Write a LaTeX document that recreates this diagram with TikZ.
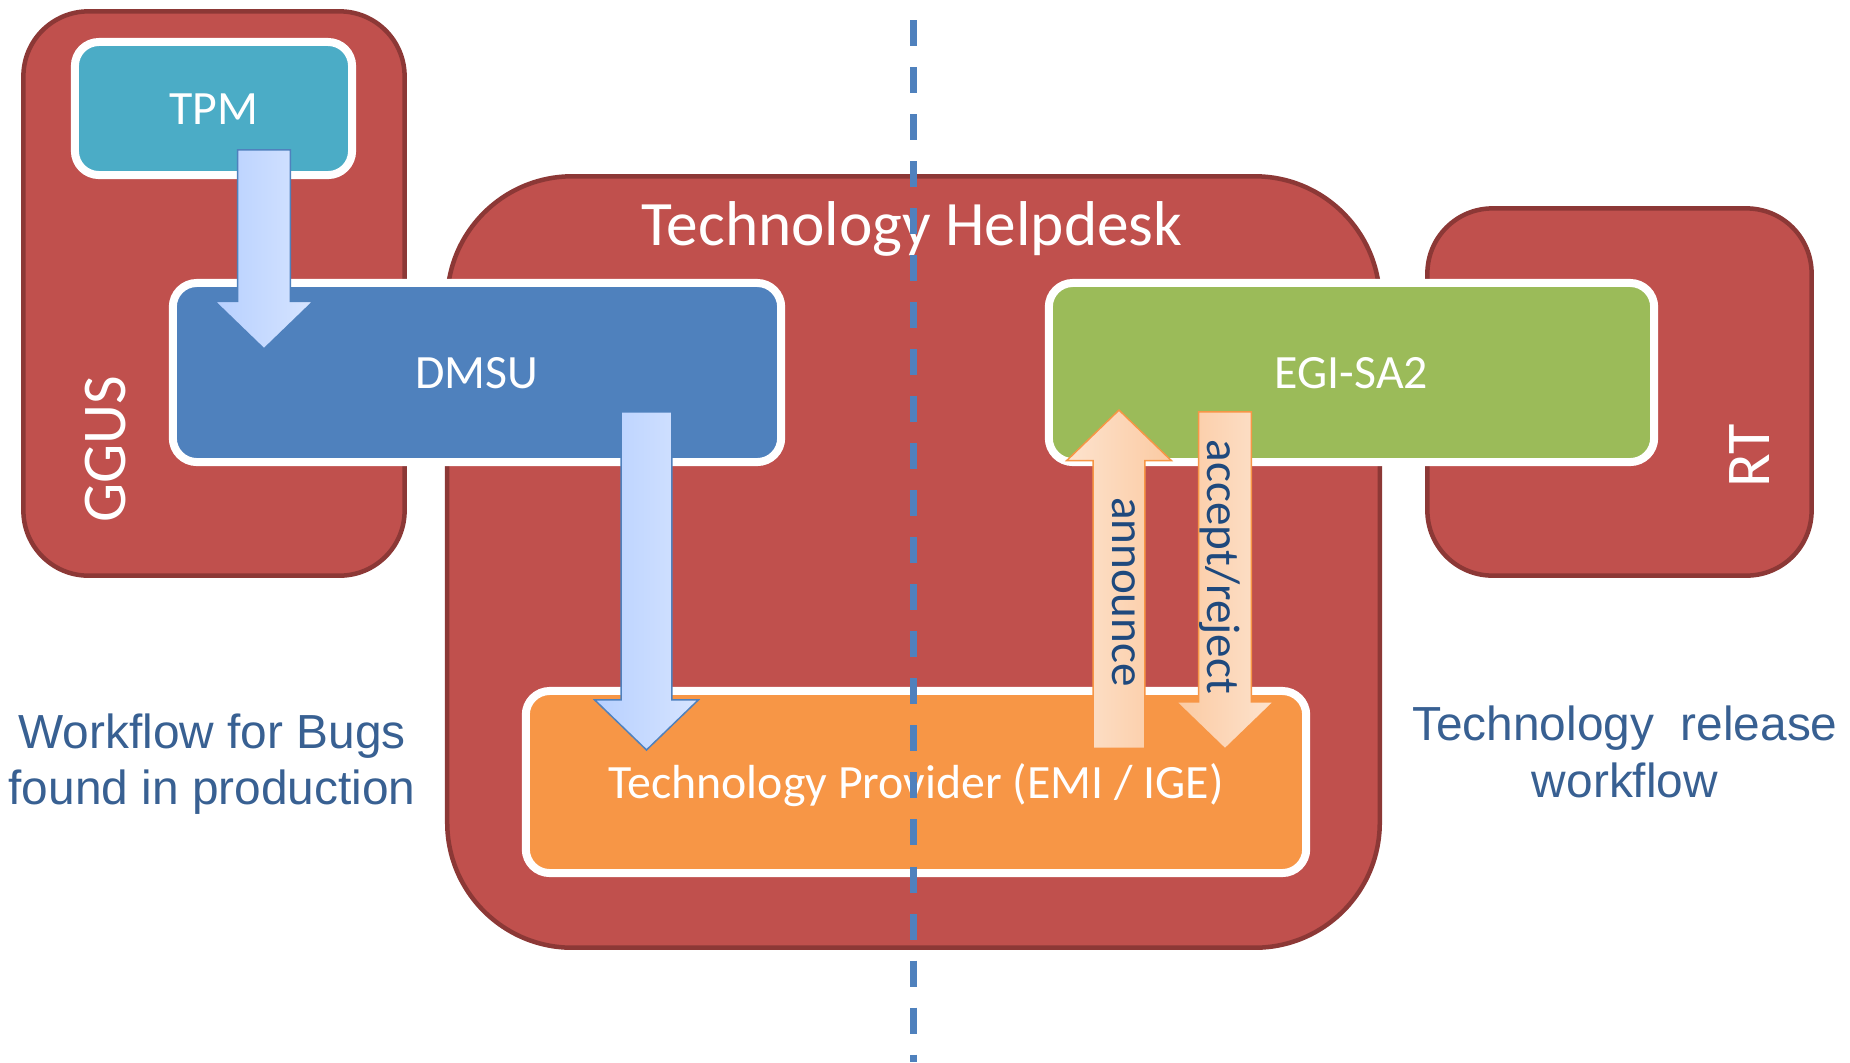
\documentclass[tikz,border=0pt]{standalone}
\usepackage{fontspec}
\setmainfont{Carlito}
\newfontfamily\arialfont{Liberation Sans}
\usetikzlibrary{shapes.arrows}

\definecolor{boxred}{HTML}{C0504D}
\definecolor{boxredline}{HTML}{8C3836}
\definecolor{tpmblue}{HTML}{4BACC6}
\definecolor{dmsublue}{HTML}{4F81BD}
\definecolor{sagreen}{HTML}{9BBB59}
\definecolor{provorange}{HTML}{F79646}
\definecolor{notetext}{RGB}{56,96,146}
\definecolor{flowtextcol}{HTML}{1F497D}
\definecolor{dashblue}{HTML}{4F81BD}
\definecolor{flowblueA}{RGB}{183,208,255}
\definecolor{flowblueB}{RGB}{214,228,255}
\definecolor{flowpeachA}{RGB}{251,202,162}
\definecolor{flowpeachB}{RGB}{253,227,206}

\tikzset{
  groupbox/.style={draw=boxredline, fill=boxred, line width=0.045cm, rounded corners=0.65cm},
  unitbox/.style={draw=white, line width=0.08cm, rounded corners=0.24cm, text=white,
    font=\fontsize{13.6}{16}\selectfont, text height=12.3pt, text depth=3pt},
  grouptext/.style={text=white, font=\fontsize{17.7}{20}\selectfont, inner sep=0pt},
  flowarrow/.style={single arrow, single arrow head indent=0pt,
    single arrow tip angle=92, line width=0.015cm},
  blueflow/.style={flowarrow, draw=dmsublue, left color=flowblueA, right color=flowblueB},
  downpeach/.style={flowarrow, draw=provorange, left color=flowpeachA, right color=flowpeachB},
  uppeach/.style={flowarrow, draw=provorange, left color=flowpeachB, right color=flowpeachA},
  flowlabel/.style={text=flowtextcol, font=\fontsize{13.4}{16}\selectfont, inner sep=0pt},
  notestyle/.style={text=notetext, align=center, inner sep=0pt,
    font=\arialfont\fontsize{13.6}{16}\selectfont}
}

\begin{document}
\begin{tikzpicture}[x=0.01cm,y=-0.01cm]
    \useasboundingbox (0,0) rectangle (1850,1062);

    % outer systems
    \node[groupbox, minimum width=3.81cm, minimum height=5.64cm] (ggus) at (214,293.5) {};
    \node[groupbox, minimum width=9.32cm, minimum height=7.71cm, rounded corners=1.25cm] (helpdesk) at (913.5,562) {};
    \node[groupbox, minimum width=3.84cm, minimum height=3.67cm] (rt) at (1619.5,392) {};

    \node[grouptext, rotate=90] (ggustext) at (106,449) {GGUS};
    \node[grouptext, rotate=90] (rttext) at (1750,456) {RT};
    \node[text=white, font=\fontsize{18}{20}\selectfont, anchor=base, inner sep=0pt] (helpdesktitle) at (912,245) {Technology Helpdesk};

    % units
    \node[unitbox, fill=tpmblue, minimum width=2.77cm, minimum height=1.33cm] (tpm) at (213.5,108.5) {TPM};
    \node[unitbox, fill=dmsublue, minimum width=6.08cm, minimum height=1.79cm] (dmsu) at (477,372.5) {DMSU};
    \node[unitbox, fill=sagreen, minimum width=6.05cm, minimum height=1.79cm] (egisa) at (1351.5,372.5) {EGI-SA2};
    \node[unitbox, fill=provorange, minimum width=7.80cm, minimum height=1.82cm] (provider) at (916,782) {Technology Provider (EMI / IGE)};

    % block arrows
    \node[blueflow, shape border rotate=270, minimum height=1.99cm, minimum width=0.97cm,
        inner sep=0.255cm, single arrow head extend=0.23cm, anchor=tail] (tpmdmsu) at (264,149) {};
    \node[blueflow, shape border rotate=270, minimum height=3.38cm, minimum width=1.02cm,
        inner sep=0.245cm, single arrow head extend=0.265cm, anchor=tail] (dmsuprov) at (646.5,411) {};
    \node[uppeach, shape border rotate=90, minimum height=3.38cm, minimum width=1.03cm,
        inner sep=0.25cm, single arrow head extend=0.265cm, anchor=tail] (announce) at (1119,749) {};
    \node[downpeach, shape border rotate=270, minimum height=3.37cm, minimum width=0.96cm,
        inner sep=0.255cm, single arrow head extend=0.225cm, anchor=tail] (acceptreject) at (1225,411) {};

    \node[flowlabel, rotate=-90, anchor=base] (announcetext) at (1112,592) {announce};
    \node[flowlabel, rotate=-90, anchor=base] (acceptrejecttext) at (1207,567) {accept/reject};

    % divider
    \coordinate (divtop) at (913,20);
    \coordinate (divbottom) at (913,1062);
    \draw[dashblue, line width=0.07cm, dash pattern=on 0.26cm off 0.21cm] (divtop) -- (divbottom);

    % notes
    \node[notestyle] (bugnote) at (212,764) {Workflow for Bugs\\found in production};
    \node[notestyle] (releasenote) at (1625,752) {Technology\ \ release\\workflow};
\end{tikzpicture}
\end{document}
